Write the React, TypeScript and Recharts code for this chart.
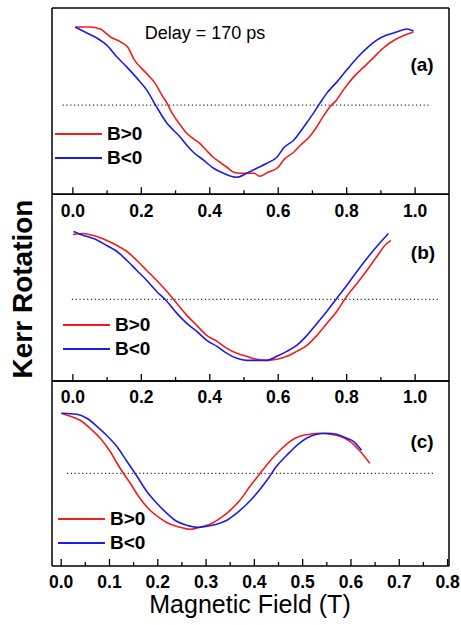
import React from 'react';
import { LineChart, Line, XAxis, YAxis, ReferenceLine, Legend } from 'recharts';

const W = 461;
const H = 625;
const FONT = '"Liberation Sans", Arial, Helvetica, sans-serif';
const RED = '#f21d1d';
const BLUE = '#1c1ce8';

// ---------- data (Magnetic field in T, Kerr rotation in arbitrary units; 0 = dotted baseline) ----------
const redA = [
  { x: 0.007, y: 78 }, { x: 0.05, y: 78 }, { x: 0.08, y: 76 }, { x: 0.11, y: 68 }, { x: 0.14, y: 63 },
  { x: 0.16, y: 58 }, { x: 0.18, y: 45 }, { x: 0.2, y: 37 }, { x: 0.22, y: 30 }, { x: 0.24, y: 22 },
  { x: 0.26, y: 10 }, { x: 0.275, y: 2 }, { x: 0.29, y: -8 }, { x: 0.31, y: -18 }, { x: 0.33, y: -27 },
  { x: 0.35, y: -33 }, { x: 0.37, y: -38 }, { x: 0.39, y: -45 }, { x: 0.41, y: -52 }, { x: 0.43, y: -57 },
  { x: 0.45, y: -62 }, { x: 0.47, y: -67 }, { x: 0.49, y: -68 }, { x: 0.53, y: -68 }, { x: 0.545, y: -71 },
  { x: 0.57, y: -67 }, { x: 0.6, y: -62 }, { x: 0.615, y: -55 }, { x: 0.645, y: -47 }, { x: 0.665, y: -40 },
  { x: 0.69, y: -32 }, { x: 0.71, y: -23 }, { x: 0.73, y: -12 }, { x: 0.75, y: -2 }, { x: 0.77, y: 5 },
  { x: 0.79, y: 15 }, { x: 0.82, y: 28 }, { x: 0.85, y: 38 }, { x: 0.88, y: 48 }, { x: 0.91, y: 58 },
  { x: 0.94, y: 65 }, { x: 0.97, y: 70 }, { x: 0.995, y: 73 },
];
const blueA = [
  { x: 0.007, y: 78 }, { x: 0.041, y: 72 }, { x: 0.07, y: 67 }, { x: 0.099, y: 60 }, { x: 0.129, y: 48 },
  { x: 0.158, y: 38 }, { x: 0.187, y: 27 }, { x: 0.216, y: 15 }, { x: 0.245, y: -2 }, { x: 0.275, y: -18 },
  { x: 0.294, y: -25 }, { x: 0.314, y: -32 }, { x: 0.333, y: -40 }, { x: 0.352, y: -47 }, { x: 0.382, y: -55 },
  { x: 0.411, y: -63 }, { x: 0.44, y: -68 }, { x: 0.479, y: -72 }, { x: 0.508, y: -68 }, { x: 0.537, y: -63 },
  { x: 0.567, y: -58 }, { x: 0.596, y: -52 }, { x: 0.615, y: -43 }, { x: 0.645, y: -35 }, { x: 0.674, y: -22 },
  { x: 0.703, y: -8 }, { x: 0.722, y: 2 }, { x: 0.742, y: 12 }, { x: 0.771, y: 23 }, { x: 0.8, y: 35 },
  { x: 0.83, y: 47 }, { x: 0.859, y: 57 }, { x: 0.888, y: 65 }, { x: 0.917, y: 70 }, { x: 0.946, y: 73 },
  { x: 0.976, y: 76 }, { x: 0.995, y: 74 },
];
const redB = [
  { x: 0.0, y: 65 }, { x: 0.031, y: 66 }, { x: 0.06, y: 64 }, { x: 0.099, y: 59 }, { x: 0.129, y: 54 },
  { x: 0.158, y: 48 }, { x: 0.187, y: 39 }, { x: 0.216, y: 29 }, { x: 0.245, y: 19 }, { x: 0.275, y: 8 },
  { x: 0.304, y: -4 }, { x: 0.333, y: -16 }, { x: 0.362, y: -26 }, { x: 0.391, y: -36 }, { x: 0.421, y: -42 },
  { x: 0.45, y: -49 }, { x: 0.479, y: -54 }, { x: 0.508, y: -57 }, { x: 0.537, y: -60 }, { x: 0.567, y: -61 },
  { x: 0.596, y: -60 }, { x: 0.625, y: -57 }, { x: 0.654, y: -52 }, { x: 0.684, y: -46 }, { x: 0.713, y: -36 },
  { x: 0.742, y: -24 }, { x: 0.771, y: -12 }, { x: 0.8, y: 3 }, { x: 0.83, y: 16 }, { x: 0.859, y: 29 },
  { x: 0.888, y: 43 }, { x: 0.917, y: 56 }, { x: 0.929, y: 59 },
];
const blueB = [
  { x: 0.002, y: 68 }, { x: 0.031, y: 64 }, { x: 0.06, y: 61 }, { x: 0.099, y: 54 }, { x: 0.129, y: 48 },
  { x: 0.158, y: 39 }, { x: 0.187, y: 29 }, { x: 0.216, y: 19 }, { x: 0.245, y: 8 }, { x: 0.275, y: -2 },
  { x: 0.304, y: -14 }, { x: 0.333, y: -24 }, { x: 0.362, y: -32 }, { x: 0.391, y: -41 }, { x: 0.421, y: -47 },
  { x: 0.45, y: -54 }, { x: 0.479, y: -59 }, { x: 0.508, y: -61 }, { x: 0.537, y: -61 }, { x: 0.567, y: -61 },
  { x: 0.596, y: -57 }, { x: 0.625, y: -52 }, { x: 0.654, y: -46 }, { x: 0.684, y: -36 }, { x: 0.713, y: -24 },
  { x: 0.742, y: -12 }, { x: 0.771, y: 1 }, { x: 0.8, y: 14 }, { x: 0.83, y: 28 }, { x: 0.859, y: 41 },
  { x: 0.888, y: 53 }, { x: 0.922, y: 66 },
];
const redC = [
  { x: 0.0, y: 60 }, { x: 0.019, y: 57 }, { x: 0.039, y: 53 }, { x: 0.06, y: 45 }, { x: 0.081, y: 35 },
  { x: 0.101, y: 22 }, { x: 0.122, y: 5 }, { x: 0.143, y: -10 }, { x: 0.163, y: -25 }, { x: 0.184, y: -37 },
  { x: 0.205, y: -45 }, { x: 0.226, y: -51 }, { x: 0.246, y: -54 }, { x: 0.267, y: -56 }, { x: 0.288, y: -54 },
  { x: 0.308, y: -51 }, { x: 0.329, y: -45 }, { x: 0.35, y: -37 }, { x: 0.37, y: -27 }, { x: 0.391, y: -13 },
  { x: 0.412, y: 0 }, { x: 0.432, y: 12 }, { x: 0.453, y: 23 }, { x: 0.474, y: 32 }, { x: 0.494, y: 37 },
  { x: 0.515, y: 39 }, { x: 0.536, y: 40 }, { x: 0.557, y: 39 }, { x: 0.577, y: 37 }, { x: 0.598, y: 32 },
  { x: 0.619, y: 22 }, { x: 0.639, y: 10 },
];
const blueC = [
  { x: 0.001, y: 60 }, { x: 0.032, y: 59 }, { x: 0.053, y: 55 }, { x: 0.074, y: 47 }, { x: 0.094, y: 38 },
  { x: 0.115, y: 27 }, { x: 0.136, y: 12 }, { x: 0.157, y: -3 }, { x: 0.177, y: -18 }, { x: 0.198, y: -30 },
  { x: 0.219, y: -40 }, { x: 0.239, y: -48 }, { x: 0.26, y: -52 }, { x: 0.281, y: -54 }, { x: 0.301, y: -53 },
  { x: 0.322, y: -51 }, { x: 0.343, y: -47 }, { x: 0.363, y: -40 }, { x: 0.384, y: -31 }, { x: 0.405, y: -20 },
  { x: 0.426, y: -7 }, { x: 0.446, y: 7 }, { x: 0.467, y: 18 }, { x: 0.488, y: 28 }, { x: 0.508, y: 35 },
  { x: 0.529, y: 39 }, { x: 0.55, y: 40 }, { x: 0.57, y: 39 }, { x: 0.591, y: 35 }, { x: 0.605, y: 32 },
  { x: 0.622, y: 23 },
];

const ticksAB = [0, 0.1, 0.2, 0.3, 0.4, 0.5, 0.6, 0.7, 0.8, 0.9, 1.0];
const ticksC = [0, 0.05, 0.1, 0.15, 0.2, 0.25, 0.3, 0.35, 0.4, 0.45, 0.5, 0.55, 0.6, 0.65, 0.7, 0.75, 0.8];

const seriesNames = ['B>0', 'B<0'];

type Panel = {
  key: string;
  top: number;
  bottom: number;
  xDomain: [number, number];
  yDomain: [number, number];
  ticks: number[];
  majorStep: number;
  labelDy: number;
  baseline: [number, number];
  red: { x: number; y: number }[];
  blue: { x: number; y: number }[];
  legend: { left: number; top: number };
  tag: string;
  tagPos: { left: number; top: number };
};

const panels: Panel[] = [
  {
    key: 'a', top: 8, bottom: 194.3, xDomain: [-0.061, 1.099], yDomain: [-89, 97],
    ticks: ticksAB, majorStep: 0.2, labelDy: 16.7, baseline: [-0.03, 1.043],
    red: redA, blue: blueA, legend: { left: 55, top: 122 }, tag: '(a)', tagPos: { left: 422, top: 65 },
  },
  {
    key: 'b', top: 194.3, bottom: 381, xDomain: [-0.061, 1.099], yDomain: [-81.7, 105.3],
    ticks: ticksAB, majorStep: 0.2, labelDy: 15.5, baseline: [-0.003, 1.073],
    red: redB, blue: blueB, legend: { left: 63, top: 313 }, tag: '(b)', tagPos: { left: 423, top: 253 },
  },
  {
    key: 'c', top: 381, bottom: 566, xDomain: [-0.019, 0.803], yDomain: [-92.7, 92.3],
    ticks: ticksC, majorStep: 0.1, labelDy: 15.5, baseline: [0.012, 0.774],
    red: redC, blue: blueC, legend: { left: 58, top: 507 }, tag: '(c)', tagPos: { left: 422, top: 442 },
  },
];

const AX = 1; // axis thickness reserved in layout

const makeTick = (majorStep: number, labelDy: number) => (props: any) => {
  const { x, y, payload } = props;
  const v = payload.value as number;
  const r = v / majorStep;
  const major = Math.abs(r - Math.round(r)) < 1e-6;
  return (
    <g>
      <line x1={x} x2={x} y1={y} y2={y - (major ? 7 : 4)} stroke="#000" strokeWidth={1.3} />
      {major && (
        <text
          x={x}
          y={y + labelDy}
          textAnchor="middle"
          dominantBaseline="central"
          fontFamily={FONT}
          fontWeight="bold"
          fontSize={17.5}
          fill="#000"
        >
          {v.toFixed(1)}
        </text>
      )}
    </g>
  );
};

const LegendBox = (props: any) => {
  const payload = [...(props.payload || [])].sort(
    (a: any, b: any) => seriesNames.indexOf(a.value) - seriesNames.indexOf(b.value)
  );
  return (
    <div style={{ fontFamily: FONT, fontWeight: 'bold', fontSize: 19, lineHeight: '24px' }}>
      {payload.map((p: any) => (
        <div key={p.value} style={{ display: 'flex', alignItems: 'center', height: 24 }}>
          <svg width={47} height={4} style={{ marginRight: 5 }}>
            <line x1={0} x2={47} y1={2} y2={2} stroke={p.color} strokeWidth={1.8} />
          </svg>
          <span>{p.value}</span>
        </div>
      ))}
    </div>
  );
};

const PanelChart = ({ p }: { p: Panel }) => (
  <div style={{ position: 'absolute', left: 0, top: 0 }}>
    <LineChart
      width={W}
      height={H}
      margin={{ top: p.top - AX, right: 12 - AX, bottom: H - p.bottom - AX, left: 52 - AX }}
    >
      <XAxis
        xAxisId="bottom"
        dataKey="x"
        type="number"
        domain={p.xDomain}
        allowDataOverflow
        ticks={p.ticks}
        interval={0}
        height={AX}
        tickSize={0}
        tickMargin={0}
        tickLine={false}
        tick={makeTick(p.majorStep, p.labelDy)}
        axisLine={{ stroke: '#000', strokeWidth: 1.5 }}
      />
      <XAxis
        xAxisId="top"
        orientation="top"
        dataKey="x"
        type="number"
        domain={p.xDomain}
        allowDataOverflow
        height={AX}
        tick={false}
        tickLine={false}
        axisLine={{ stroke: '#000', strokeWidth: 1.5 }}
      />
      <YAxis
        yAxisId="left"
        type="number"
        domain={p.yDomain}
        allowDataOverflow
        width={AX}
        tick={false}
        tickLine={false}
        axisLine={{ stroke: '#000', strokeWidth: 1.5 }}
      />
      <YAxis
        yAxisId="right"
        orientation="right"
        type="number"
        domain={p.yDomain}
        allowDataOverflow
        width={AX}
        tick={false}
        tickLine={false}
        axisLine={{ stroke: '#000', strokeWidth: 1.5 }}
      />
      <ReferenceLine
        xAxisId="bottom"
        yAxisId="left"
        segment={[{ x: p.baseline[0], y: 0 }, { x: p.baseline[1], y: 0 }]}
        stroke="#333"
        strokeWidth={1.2}
        strokeDasharray="1.2 2.6"
        ifOverflow="visible"
      />
      <Line
        xAxisId="bottom"
        yAxisId="left"
        data={p.red}
        dataKey="y"
        name={seriesNames[0]}
        type="monotone"
        stroke={RED}
        strokeWidth={1.6}
        dot={false}
        isAnimationActive={false}
      />
      <Line
        xAxisId="bottom"
        yAxisId="left"
        data={p.blue}
        dataKey="y"
        name={seriesNames[1]}
        type="monotone"
        stroke={BLUE}
        strokeWidth={1.6}
        dot={false}
        isAnimationActive={false}
      />
      <Legend
        layout="horizontal"
        verticalAlign="middle"
        align="center"
        content={<LegendBox />}
        wrapperStyle={{ position: 'absolute', left: p.legend.left, top: p.legend.top, width: 'auto', height: 'auto' }}
      />
    </LineChart>
    <div
      style={{
        position: 'absolute', left: p.tagPos.left, top: p.tagPos.top, transform: 'translate(-50%, -50%)',
        fontFamily: FONT, fontWeight: 'bold', fontSize: 19, whiteSpace: 'nowrap',
      }}
    >
      {p.tag}
    </div>
  </div>
);

export default function App() {
  return (
    <div style={{ position: 'absolute', left: 0, top: 0, width: W, height: H, background: '#fff', overflow: 'hidden' }}>
      {panels.map((p) => (
        <PanelChart key={p.key} p={p} />
      ))}
      <div
        style={{
          position: 'absolute', left: 205, top: 33, transform: 'translate(-50%, -50%)',
          fontFamily: FONT, fontSize: 18, whiteSpace: 'nowrap',
        }}
      >
        Delay = 170 ps
      </div>
      <div
        style={{
          position: 'absolute', left: 23, top: 289, transform: 'translate(-50%, -50%) rotate(-90deg)',
          fontFamily: FONT, fontWeight: 'bold', fontSize: 28, whiteSpace: 'nowrap',
        }}
      >
        Kerr Rotation
      </div>
      <div
        style={{
          position: 'absolute', left: 250, top: 604, transform: 'translate(-50%, -50%)',
          fontFamily: FONT, fontSize: 25, lineHeight: '26px', whiteSpace: 'nowrap',
        }}
      >
        Magnetic Field (T)
      </div>
    </div>
  );
}
